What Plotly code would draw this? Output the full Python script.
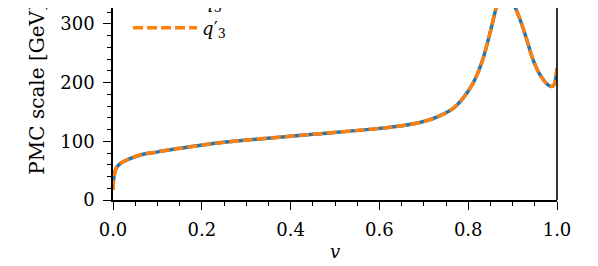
import plotly.graph_objects as go

# values
v = [0.0, 0.002, 0.007, 0.018, 0.04, 0.063, 0.101, 0.139, 0.151, 0.214, 0.301,
     0.451, 0.601, 0.646, 0.691, 0.729, 0.766, 0.789, 0.811, 0.831, 0.849, 0.867,
     0.885, 0.901, 0.917, 0.932, 0.946, 0.962, 0.98, 0.991, 1.0]
pmc = [17, 39, 54, 63, 71, 77, 82, 87, 88, 95, 102,
       112, 122, 126, 132, 141, 156, 174, 199, 235, 284, 337,
       366, 337, 307, 273, 239, 213, 196, 194, 225]

series_names = ["<i>q</i><sub>3</sub>", "<i>q</i>\u2032<sub>3</sub>"]
y_ticks = [0, 100, 200, 300]
x_ticks = [0.0, 0.2, 0.4, 0.6, 0.8, 1.0]

font = "DejaVu Serif"

fig = go.Figure()
fig.add_trace(go.Scatter(x=v, y=pmc, mode="lines", name=series_names[0],
                         line=dict(color="#1f77b4", width=3.5, shape="spline")))
fig.add_trace(go.Scatter(x=v, y=pmc, mode="lines", name=series_names[1],
                         line=dict(color="#ff7f0e", width=3.5, dash="10px,4px",
                                   shape="spline")))

axis_common = dict(showline=True, linecolor="black", linewidth=1.6,
                   ticks="outside", ticklen=8, tickwidth=1.4, tickcolor="black",
                   showgrid=False, zeroline=False,
                   tickfont=dict(family=font, size=18, color="black"))

fig.update_xaxes(range=[0, 1], tickvals=x_ticks,
                 ticktext=["%.1f" % t for t in x_ticks],
                 minor=dict(dtick=0.05, ticks="outside", ticklen=4, tickwidth=1.2,
                            tickcolor="black"),
                 ticklabelstandoff=5,
                 title=dict(text="<i>v</i>", font=dict(family=font, size=18, color="black"),
                            standoff=6),
                 **axis_common)
# the page body has an 8px margin, so the top of the range is where the reference crop ends
fig.update_yaxes(range=[0, 327], tickvals=y_ticks,
                 minor=dict(dtick=20, ticks="outside", ticklen=4, tickwidth=1.2,
                            tickcolor="black"),
                 ticklabelstandoff=5,
                 **axis_common)

# right spine (top spine is outside the cropped picture)
fig.add_shape(type="line", xref="paper", yref="paper", x0=1, x1=1, y0=0, y1=1,
              line=dict(color="black", width=1.6))

fig.add_annotation(text="PMC scale [GeV]", xref="paper", yref="paper",
                   x=-0.171, y=0.575, xanchor="center", yanchor="middle",
                   textangle=-90, showarrow=False,
                   font=dict(family=font, size=20, color="black"))

fig.update_layout(
    width=582, height=258,
    margin=dict(l=105, r=33, t=0, b=66, autoexpand=False),
    plot_bgcolor="white", paper_bgcolor="white",
    legend=dict(x=0.034, y=1.13, xanchor="left", yanchor="top",
                bgcolor="rgba(0,0,0,0)", itemwidth=64,
                font=dict(family=font, size=18, color="black")),
)

fig.write_html("out.html")
